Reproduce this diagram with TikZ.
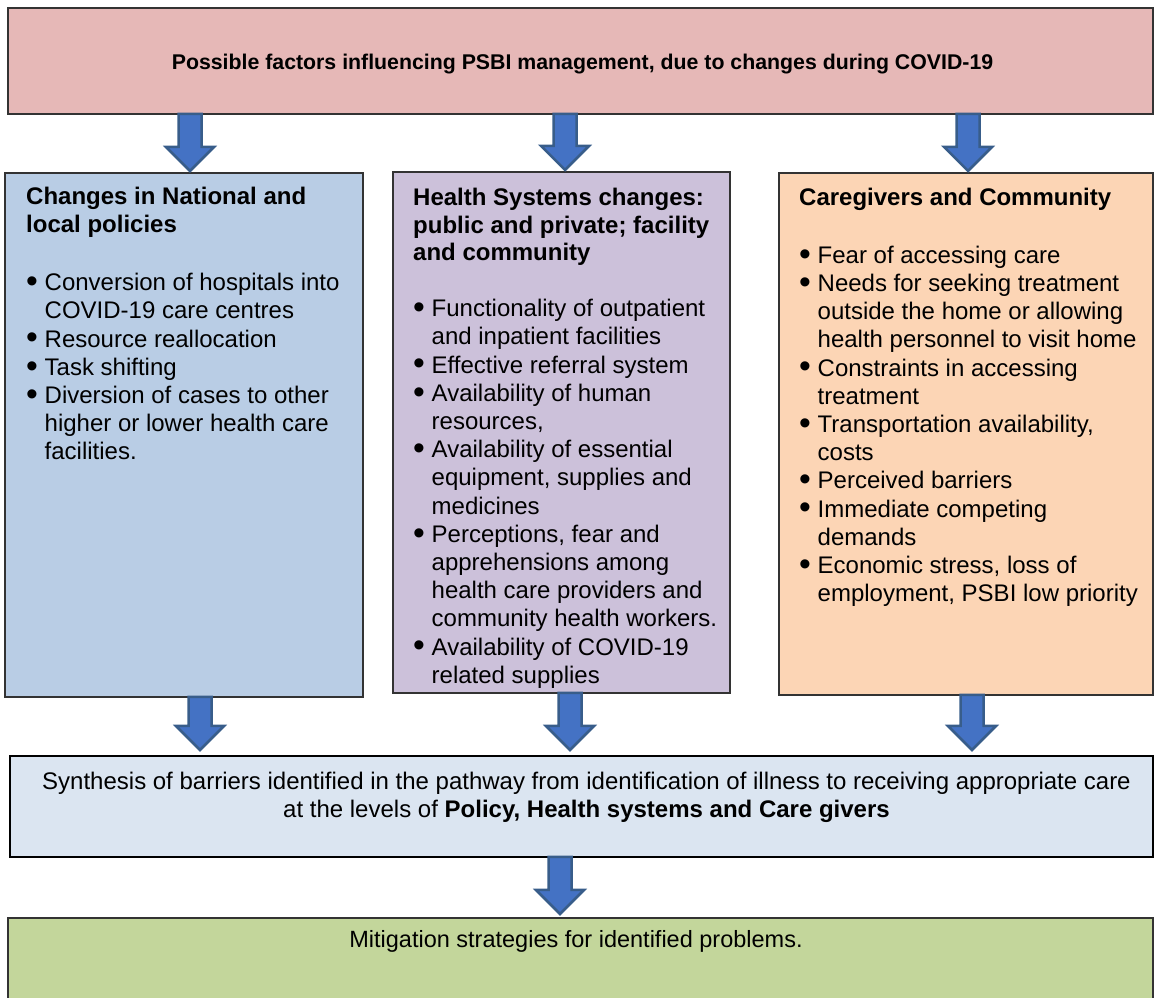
\documentclass[tikz,border=0pt]{standalone}
\usepackage{fontspec}
\setmainfont{Liberation Sans}
\usetikzlibrary{calc}
\definecolor{cTop}{HTML}{E6B8B7}
\definecolor{cPol}{HTML}{B9CDE5}
\definecolor{cHS}{HTML}{CCC1DA}
\definecolor{cCG}{HTML}{FCD5B5}
\definecolor{cSyn}{HTML}{DBE5F1}
\definecolor{cMit}{HTML}{C3D69B}
\definecolor{cArr}{HTML}{4472C4}
\definecolor{cArrB}{HTML}{385D8A}
\definecolor{cBorder}{HTML}{333333}
\newcommand\bul{\makebox[18.5pt][l]{\smash{\raisebox{-1.8pt}{\scalebox{1.4}{\textbullet}}}}}
% block arrow: #1 x position, #2 from node, #3 to node, #4 gap above target
\newcommand\barrow[4]{%
  \path[barr] let \p1=(#2.south), \p2=(#3.north) in
   ({#1pt-11.5pt},\y1) -- ({#1pt+11.5pt},\y1) -- ({#1pt+11.5pt},\y2+#4pt+24pt)
   -- ({#1pt+24pt},\y2+#4pt+24pt) -- (#1pt,\y2+#4pt) -- ({#1pt-24pt},\y2+#4pt+24pt)
   -- ({#1pt-11.5pt},\y2+#4pt+24pt) -- cycle;}
\tikzset{
  box/.style={draw=cBorder, line width=1.4pt, rectangle, inner sep=0pt, outer sep=0pt, anchor=north west},
  barr/.style={fill=cArr, draw=cArrB, line width=2.5pt, line join=miter},
  head/.style={anchor=base west, inner sep=0pt, font=\bfseries\fontsize{24}{28}\selectfont},
  lst/.style={anchor=base west, inner sep=0pt, font=\fontsize{24}{28.2}\selectfont},
}
\begin{document}
\begin{tikzpicture}[x=1pt,y=1pt]
\useasboundingbox (0,0) rectangle (1154,998);
% boxes
\node[box, fill=cTop, minimum width=1145pt, minimum height=106pt] (top) at (8,990) {};
\node[box, fill=cPol, minimum width=358pt, minimum height=524pt] (pol) at (5,825) {};
\node[box, fill=cHS, minimum width=337pt, minimum height=521pt] (hs) at (393,826) {};
\node[box, fill=cCG, minimum width=374pt, minimum height=522pt] (cg) at (779,825) {};
\node[box, fill=cSyn, draw=black, line width=2.5pt, minimum width=1143pt, minimum height=101pt] (syn) at (10,242) {};
\node[box, fill=cMit, minimum width=1145pt, minimum height=90pt] (mit) at (8,80) {};
% title
\node[anchor=base, inner sep=0pt, font=\bfseries\fontsize{21.3}{25}\selectfont] (title) at (582.5,928)
  {Possible factors influencing PSBI management, due to changes during COVID-19};
% column 1
\node[head] (polH) at (26,793) {\begin{tabular}[t]{@{}l@{}}Changes in National and\\local policies\end{tabular}};
\node[lst] (polL) at (26,707.3) {\begin{tabular}[t]{@{}l@{}l@{}}
\bul & Conversion of hospitals into\\
 & COVID-19 care centres\\
\bul & Resource reallocation\\
\bul & Task shifting\\
\bul & Diversion of cases to other\\
 & higher or lower health care\\
 & facilities.
\end{tabular}};
% column 2
\node[head, font=\bfseries\fontsize{24}{27.5}\selectfont] (hsH) at (413,792.3) {\begin{tabular}[t]{@{}l@{}}Health Systems changes:\\public and private; facility\\and community\end{tabular}};
\node[lst] (hsL) at (413,681.3) {\begin{tabular}[t]{@{}l@{}l@{}}
\bul & Functionality of outpatient\\
 & and inpatient facilities\\
\bul & Effective referral system\\
\bul & Availability of human\\
 & resources,\\
\bul & Availability of essential\\
 & equipment, supplies and\\
 & medicines\\
\bul & Perceptions, fear and\\
 & apprehensions among\\
 & health care providers and\\
 & community health workers.\\
\bul & Availability of COVID-19\\
 & related supplies
\end{tabular}};
% column 3
\node[head] (cgH) at (799,792) {Caregivers and Community};
\node[lst] (cgL) at (799,734.7) {\begin{tabular}[t]{@{}l@{}l@{}}
\bul & Fear of accessing care\\
\bul & Needs for seeking treatment\\
 & outside the home or allowing\\
 & health personnel to visit home\\
\bul & Constraints in accessing\\
 & treatment\\
\bul & Transportation availability,\\
 & costs\\
\bul & Perceived barriers\\
\bul & Immediate competing\\
 & demands\\
\bul & Economic stress, loss of\\
 & employment, PSBI low priority
\end{tabular}};
% synthesis
\node[anchor=base, inner sep=0pt, font=\fontsize{24}{27.3}\selectfont] (synT) at (586.5,208) {\begin{tabular}[t]{@{}c@{}}
Synthesis of barriers identified in the pathway from identification of illness to receiving appropriate care\\
at the levels of \textbf{Policy, Health systems and Care givers}
\end{tabular}};
% mitigation
\node[anchor=base, inner sep=0pt, font=\fontsize{23.5}{28}\selectfont] (mitT) at (576,50) {Mitigation strategies for identified problems.};
% arrows
\barrow{190}{top}{pol}{2}
\barrow{565}{top}{hs}{2}
\barrow{968}{top}{cg}{2}
\barrow{200}{pol}{syn}{6}
\barrow{570}{hs}{syn}{6}
\barrow{972}{cg}{syn}{6}
\barrow{560}{syn}{mit}{4}
\end{tikzpicture}
\end{document}
